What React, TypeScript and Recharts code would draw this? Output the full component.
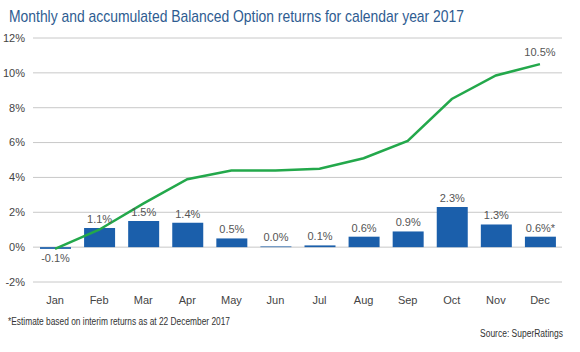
import React from 'react'
import {
  ComposedChart, Bar, Line, XAxis, YAxis, CartesianGrid, LabelList,
} from 'recharts'

const months = ['Jan', 'Feb', 'Mar', 'Apr', 'May', 'Jun', 'Jul', 'Aug', 'Sep', 'Oct', 'Nov', 'Dec']
const monthly = [-0.1, 1.1, 1.5, 1.4, 0.5, 0.04, 0.1, 0.6, 0.9, 2.3, 1.3, 0.6]
const accumulated = [-0.1, 1.0, 2.5, 3.9, 4.4, 4.4, 4.5, 5.1, 6.1, 8.5, 9.85, 10.5]
const yTicks = [-2, 0, 2, 4, 6, 8, 10, 12]
const estimated = ['Dec']

const data = months.map((m, i) => ({
  month: m,
  monthly: monthly[i],
  accumulated: accumulated[i],
  monthlyLabel: `${monthly[i].toFixed(1)}%${estimated.includes(m) ? '*' : ''}`,
  lineLabel: i === months.length - 1 ? `${accumulated[i].toFixed(1)}%` : '',
}))

const FONT = '"Liberation Sans", Arial, sans-serif'

const BarLabel = (props: any) => {
  const { x, y, width, height, value } = props
  const neg = String(value).startsWith('-')
  const bottom = Math.max(y, y + height)
  const top = Math.min(y, y + height)
  const ty = neg ? bottom + 13 : top - 5
  return (
    <text x={x + width / 2} y={ty} textAnchor="middle" fontSize={11} fill="#555" fontFamily={FONT}>
      {value}
    </text>
  )
}

const LineLabel = (props: any) => {
  const { x, y, value } = props
  if (!value) return null
  return (
    <text x={x} y={y - 8} textAnchor="middle" fontSize={11} fill="#555" fontFamily={FONT}>
      {value}
    </text>
  )
}

export default function App() {
  return (
    <div style={{ position: 'absolute', left: 0, top: 0, width: 580, height: 352, background: '#fff' }}>
      <ComposedChart width={580} height={352} data={data} margin={{ top: 38, right: 18, left: 0, bottom: 40 }}>
        <CartesianGrid stroke="#c8c8c8" vertical={false} />
        <XAxis dataKey="month" axisLine={false} tickLine={false} tickMargin={8}
          tick={{ fontSize: 11, fill: '#444', fontFamily: FONT }} interval={0} />
        <YAxis domain={[-2, 12]} ticks={yTicks} width={33} axisLine={false} tickLine={false}
          tickFormatter={(v: number) => `${v}%`} tick={{ fontSize: 11, fill: '#444', fontFamily: FONT }} />
        <Bar dataKey="monthly" fill="#1b5fab" barSize={31} isAnimationActive={false}>
          <LabelList dataKey="monthlyLabel" content={BarLabel} />
        </Bar>
        <Line dataKey="accumulated" stroke="#23a84b" strokeWidth={2.5} dot={false} type="linear" isAnimationActive={false}>
          <LabelList dataKey="lineLabel" content={LineLabel} />
        </Line>
      </ComposedChart>
      <svg width={580} height={352} style={{ position: 'absolute', left: 0, top: 0, pointerEvents: 'none' }}>
        <text x={9} y={22} fontSize={17} fill="#2e5c91" fontFamily={FONT} textLength={455} lengthAdjust="spacingAndGlyphs">
          Monthly and accumulated Balanced Option returns for calendar year 2017
        </text>
        <text x={8} y={325} fontSize={10} fill="#333" fontFamily={FONT} textLength={222} lengthAdjust="spacingAndGlyphs">
          *Estimate based on interim returns as at 22 December 2017
        </text>
        <text x={480} y={337} fontSize={10} fill="#333" fontFamily={FONT} textLength={83} lengthAdjust="spacingAndGlyphs">
          Source: SuperRatings
        </text>
      </svg>
    </div>
  )
}
